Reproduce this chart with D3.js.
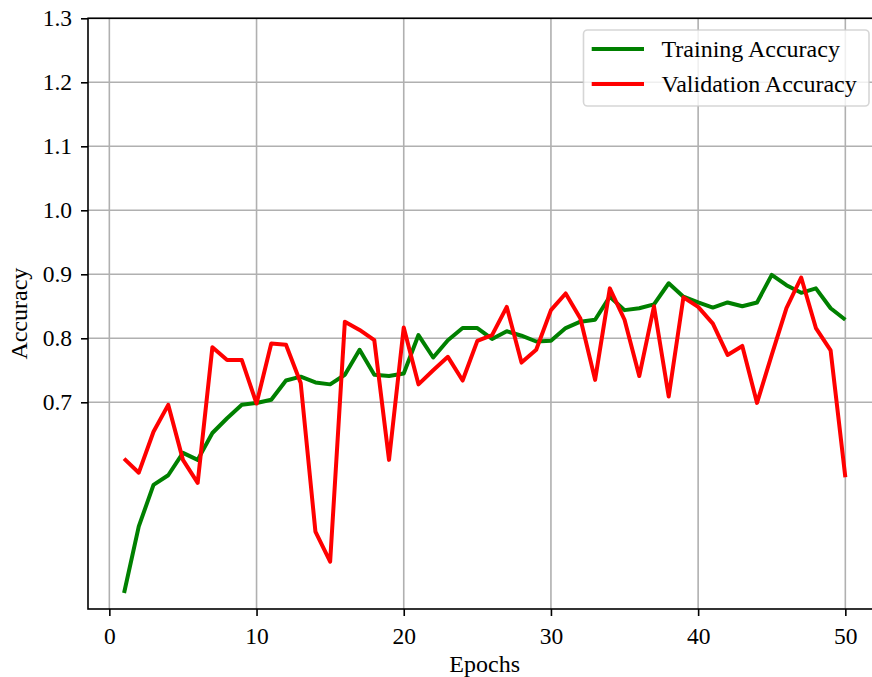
<!DOCTYPE html>
<html>
<head>
<meta charset="utf-8">
<script src="https://cdn.jsdelivr.net/npm/d3@7/dist/d3.min.js"></script>
<style>
  html, body { margin: 0; padding: 0; background: #fff; }
  svg { display: block; overflow: hidden; }
  text { font-family: "Liberation Serif", "Times New Roman", serif; fill: #000; }
</style>
</head>
<body>
<svg id="chart" width="872" height="677"></svg>
<script>
const epochs = d3.range(1, 51);
const trainingAccuracy = [
  0.402, 0.506, 0.571, 0.586, 0.621, 0.610, 0.652, 0.675, 0.696, 0.699,
  0.704, 0.734, 0.740, 0.731, 0.728, 0.743, 0.782, 0.743, 0.741, 0.745,
  0.805, 0.770, 0.797, 0.816, 0.816, 0.799, 0.811, 0.804, 0.795, 0.796,
  0.816, 0.826, 0.829, 0.865, 0.844, 0.847, 0.853, 0.886, 0.865, 0.856,
  0.848, 0.856, 0.850, 0.856, 0.899, 0.883, 0.871, 0.878, 0.847, 0.829
];
const validationAccuracy = [
  0.612, 0.590, 0.654, 0.696, 0.610, 0.574, 0.786, 0.766, 0.766, 0.698,
  0.792, 0.790, 0.730, 0.498, 0.451, 0.826, 0.813, 0.797, 0.610, 0.817,
  0.728, 0.750, 0.771, 0.734, 0.796, 0.805, 0.849, 0.762, 0.782, 0.844,
  0.870, 0.831, 0.735, 0.878, 0.829, 0.741, 0.850, 0.709, 0.864, 0.849,
  0.823, 0.774, 0.788, 0.699, 0.774, 0.847, 0.895, 0.816, 0.781, 0.583
];
const xTicks = [0, 10, 20, 30, 40, 50];
const yTicks = [0.7, 0.8, 0.9, 1.0, 1.1, 1.2, 1.3];
const seriesNames = ["Training Accuracy", "Validation Accuracy"];
const seriesColors = ["#008000", "#ff0000"];

const FS = 24, TFS = 23.5;
const svg = d3.select("#chart");
const L = 88, R = 881.4, T = 18.3, B = 609;
const x = d3.scaleLinear().domain([-1.45, 52.45]).range([L, R]);
const y = d3.scaleLinear().domain([0.377, 1.3]).range([B, T]);

// grid
const grid = svg.append("g");
grid.selectAll(".gx").data(xTicks).enter().append("line")
  .attr("x1", d => x(d)).attr("x2", d => x(d)).attr("y1", T).attr("y2", B)
  .attr("stroke", "#b0b0b0").attr("stroke-width", 1.6);
grid.selectAll(".gy").data(yTicks).enter().append("line")
  .attr("y1", d => y(d)).attr("y2", d => y(d)).attr("x1", L).attr("x2", R)
  .attr("stroke", "#b0b0b0").attr("stroke-width", 1.6);

// lines
const line = d3.line().x((d, i) => x(epochs[i])).y(d => y(d));
[trainingAccuracy, validationAccuracy].forEach((s, k) => {
  svg.append("path").datum(s).attr("d", line)
    .attr("fill", "none").attr("stroke", seriesColors[k])
    .attr("stroke-width", 4).attr("stroke-linejoin", "round").attr("stroke-linecap", "butt");
});

// axes
const xAxis = d3.axisBottom(x).tickValues(xTicks).tickFormat(d3.format("d")).tickSize(7).tickPadding(11);
const yAxis = d3.axisLeft(y).tickValues(yTicks).tickFormat(d3.format(".1f")).tickSize(7).tickPadding(9);
const gx = svg.append("g").attr("transform", `translate(0,${B})`).call(xAxis);
const gy = svg.append("g").attr("transform", `translate(${L},0)`).call(yAxis);
[gx, gy].forEach(g => {
  g.select(".domain").remove();
  g.selectAll(".tick line").attr("stroke", "#000").attr("stroke-width", 1.6);
  g.selectAll(".tick text").attr("font-size", TFS).attr("font-family", "Liberation Serif").attr("fill", "#222");
});
// spines
svg.append("rect").attr("x", L).attr("y", T).attr("width", R - L).attr("height", B - T)
  .attr("fill", "none").attr("stroke", "#000").attr("stroke-width", 1.6);

// labels
svg.append("text").attr("x", (L + R) / 2).attr("y", 671.5).attr("text-anchor", "middle")
  .attr("font-size", FS).attr("fill", "#222").text("Epochs");
svg.append("text").attr("transform", `translate(27,${(T + B) / 2}) rotate(-90)`)
  .attr("text-anchor", "middle").attr("font-size", FS).attr("fill", "#222").text("Accuracy");

// legend
const lg = svg.append("g");
lg.append("rect").attr("x", 583.5).attr("y", 30).attr("width", 285.5).attr("height", 76)
  .attr("rx", 4).attr("fill", "#fff").attr("fill-opacity", 0.8)
  .attr("stroke", "#cccccc").attr("stroke-opacity", 0.8).attr("stroke-width", 1.6);
seriesNames.forEach((n, i) => {
  const yy = 49 + i * 35;
  lg.append("line").attr("x1", 591.7).attr("x2", 644).attr("y1", yy).attr("y2", yy)
    .attr("stroke", seriesColors[i]).attr("stroke-width", 4);
  lg.append("text").attr("x", 661.5).attr("y", yy + 7.5).attr("font-size", FS).attr("fill", "#222").text(n);
});
</script>
</body>
</html>
